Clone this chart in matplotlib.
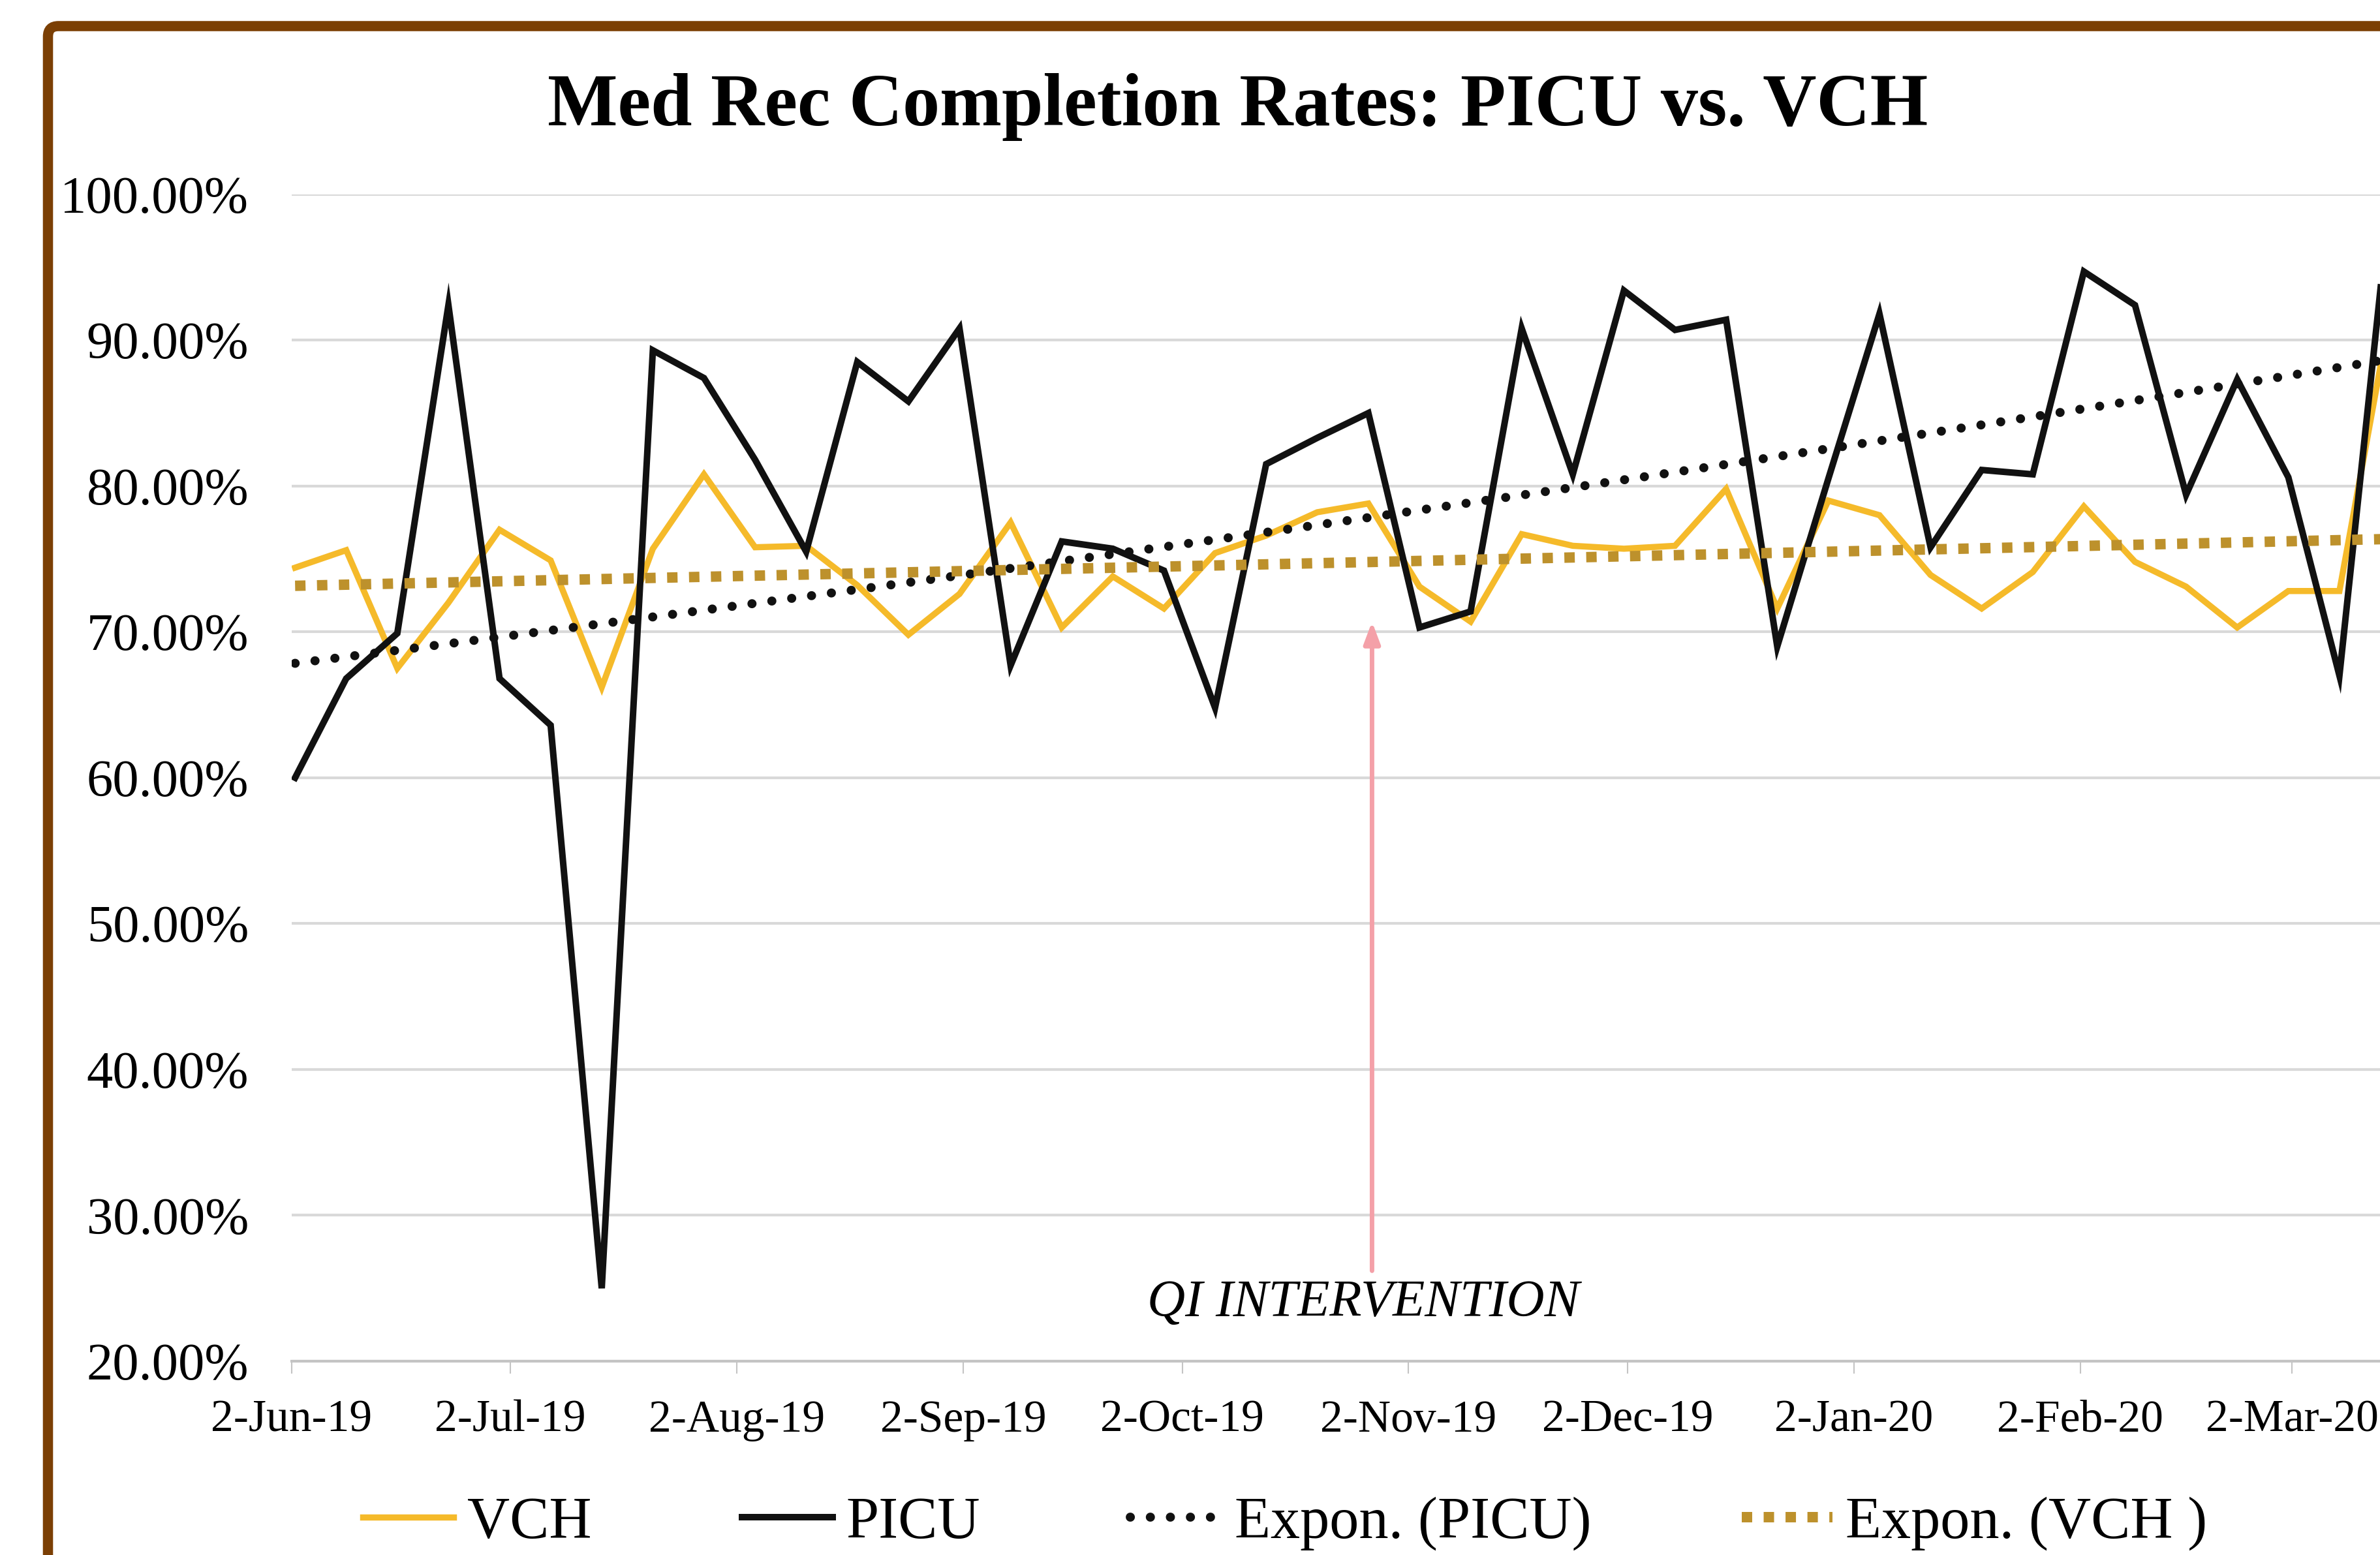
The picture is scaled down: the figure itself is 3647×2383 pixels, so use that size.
import numpy as np
import pandas as pd
import matplotlib
matplotlib.use("Agg")
import matplotlib.pyplot as plt
import matplotlib.dates as mdates
from matplotlib.patches import FancyBboxPatch
from matplotlib.transforms import IdentityTransform
from matplotlib.ticker import FixedLocator, FuncFormatter

# ---------------- data ----------------
week_start = "2019-06-02 12:00"
picu = [60.0, 66.8, 69.9, 92.4, 66.8, 63.6, 25.0, 89.3, 87.4, 81.8,
        75.5, 88.5, 85.8, 90.8, 67.7, 76.2, 75.7, 74.2, 64.8, 81.5,
        83.3, 85.0, 70.3, 71.4, 90.8, 80.8, 93.4, 90.7, 91.4, 69.0,
        80.5, 91.8, 75.8, 81.1, 80.8, 94.7, 92.4, 79.4, 87.3, 80.6,
        67.0, 100.0]
vch = [74.4, 75.6, 67.5, 72.0, 77.0, 74.9, 66.2, 75.7, 80.8, 75.8,
       75.9, 73.2, 69.8, 72.6, 77.5, 70.3, 73.8, 71.6, 75.4, 76.6,
       78.2, 78.8, 73.1, 70.7, 76.7, 75.9, 75.7, 75.9, 79.8, 71.6,
       79.0, 78.0, 73.9, 71.6, 74.1, 78.6, 74.8, 73.1, 70.3, 72.8,
       72.8, 92.0]
tick_labels = ["2-Jun-19", "2-Jul-19", "2-Aug-19", "2-Sep-19", "2-Oct-19",
               "2-Nov-19", "2-Dec-19", "2-Jan-20", "2-Feb-20", "2-Mar-20"]
y_ticks = [20, 30, 40, 50, 60, 70, 80, 90, 100]
series_names = ["VCH", "PICU", "Expon. (PICU)", "Expon. (VCH )"]
title = "Med Rec Completion Rates: PICU vs. VCH"
qi_label = "QI INTERVENTION"
qi_date = "2019-10-28"
qi_arrow = [26.2, 70.7]

# ---------------- style ----------------
W, H, DPI = 3647, 2383, 100
plt.rcParams["font.family"] = ["Liberation Serif", "DejaVu Serif"]
C_VCH = "#F5BA2A"
C_PICU = "#111111"
C_VCH_T = "#BD912C"
C_GRID = "#D9D9D9"
C_AXIS = "#C4C4C4"
C_BORDER = "#7B3F04"
C_ARROW = "#F4A0A8"

fig = plt.figure(figsize=(W / DPI, H / DPI), dpi=DPI)
fig.patch.set_facecolor("white")

# brown rounded frame (extends past right/bottom edges, cropped like reference)
frame = FancyBboxPatch((73.5, -150), W + 300, (H - 40) + 150,
                       boxstyle="round,pad=0,rounding_size=16",
                       transform=IdentityTransform(), facecolor="none",
                       edgecolor=C_BORDER, linewidth=11.2, zorder=0)
fig.add_artist(frame)

dates = pd.date_range(week_start, periods=len(picu), freq="7D")
x = mdates.date2num(dates)
tick_dates = pd.to_datetime(tick_labels, format="%d-%b-%y")
x_left = mdates.date2num(tick_dates[0])
px_per_day = 11.188
n_days = 303

ax = fig.add_axes([446.6 / W, (H - 2086) / H, n_days * px_per_day / W, (2086 - 297.7) / H])
ax.set_xlim(x_left, x_left + n_days)
ax.set_ylim(20, 100)

# series
l_vch, = ax.plot(x, vch, color=C_VCH, lw=6.8, zorder=3, solid_joinstyle="miter")
l_picu, = ax.plot(x, picu, color=C_PICU, lw=7.2, zorder=4, solid_joinstyle="miter")

# exponential trendlines (fitted to the data, like Excel's Expon. trendline)
t = np.linspace(x[0], x[-1], 500)
bp, ap = np.polyfit(x - x[0], np.log(picu), 1)
bv, av = np.polyfit(x - x[0], np.log(vch), 1)
l_tp, = ax.plot(t, np.exp(ap + bp * (t - x[0])), color=C_PICU, lw=10,
                linestyle=(0, (0.01, 2.2)), dash_capstyle="round", zorder=5)
l_tv, = ax.plot(t, np.exp(av + bv * (t - x[0])), color=C_VCH_T, lw=11.5,
                linestyle=(0, (1.0, 1.1)), dash_capstyle="butt", zorder=5)

# axes styling
for s in ["top", "right", "left"]:
    ax.spines[s].set_visible(False)
ax.spines["bottom"].set_color(C_AXIS)
ax.spines["bottom"].set_linewidth(3)
ax.yaxis.grid(True, color=C_GRID, lw=3)
ax.set_axisbelow(True)
ax.yaxis.set_major_locator(FixedLocator(y_ticks))
ax.yaxis.set_major_formatter(FuncFormatter(lambda v, p: f"{v:.2f}%"))
ax.xaxis.set_major_locator(FixedLocator(mdates.date2num(tick_dates)))
ax.set_xticklabels(tick_labels)
ax.tick_params(axis="y", length=0, pad=47, labelsize=58, labelcolor="black")
ax.tick_params(axis="x", length=13.7, width=1.5, color=C_AXIS, pad=29,
               labelsize=50, labelcolor="black", direction="out")

# QI intervention annotation
qx = mdates.date2num(pd.Timestamp(qi_date))
ax.annotate("", xy=(qx, qi_arrow[1]), xytext=(qx, qi_arrow[0]),
            arrowprops=dict(arrowstyle="-|>,head_length=0.8,head_width=0.3",
                            color=C_ARROW, lw=5, mutation_scale=25,
                            shrinkA=0, shrinkB=0), zorder=6)
ax.text(qx - 1.2, 23.1, qi_label, ha="center", va="baseline",
        fontstyle="italic", fontsize=58, color="black")

# title
fig.text(1897 / W, 1 - 192 / H, title, ha="center", va="baseline",
         fontsize=82, fontweight="bold", color="black")

# legend
fig.legend(handles=[l_vch, l_picu, l_tp, l_tv], labels=series_names,
           loc="center left", bbox_to_anchor=(556 / W, 48 / H), ncol=4,
           frameon=False, fontsize=65, handlelength=1.54, handletextpad=0.23,
           columnspacing=2.55, borderpad=0, borderaxespad=0)

fig.savefig("out.png", dpi=DPI, facecolor="white")
